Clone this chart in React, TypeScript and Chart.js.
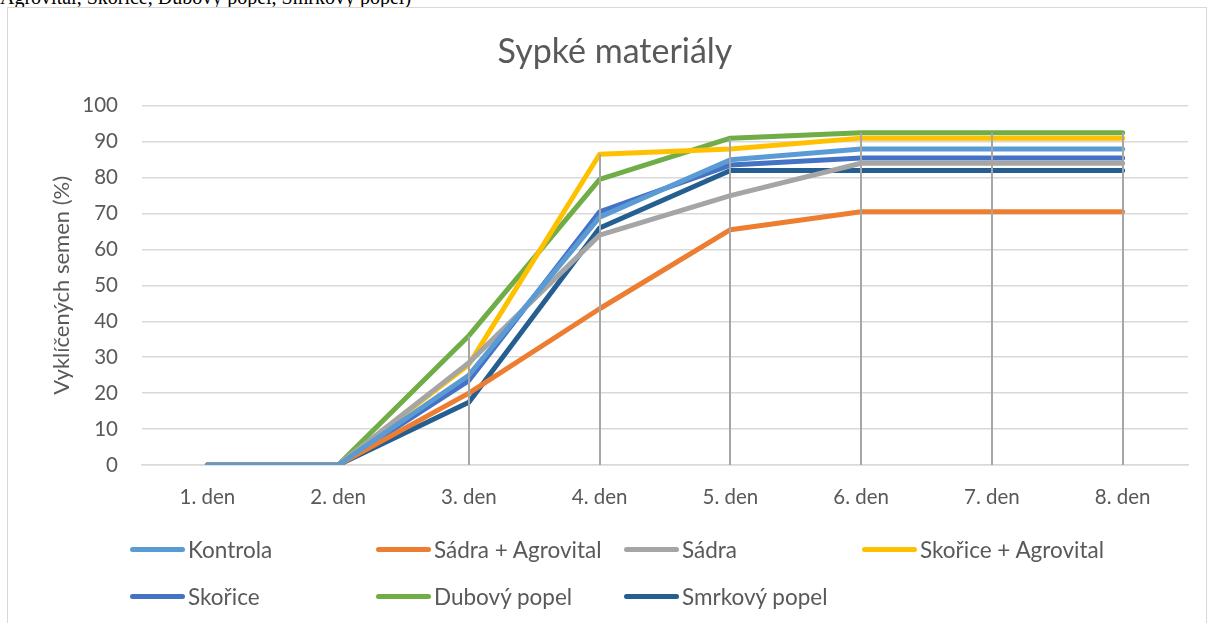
import React, { useEffect, useRef } from "react";
import { Chart, registerables } from "chart.js";

Chart.register(...registerables);

const categories = ["1. den", "2. den", "3. den", "4. den", "5. den", "6. den", "7. den", "8. den"];
const seriesNames = [
  "Kontrola",
  "Sádra + Agrovital",
  "Sádra",
  "Skořice + Agrovital",
  "Skořice",
  "Dubový popel",
  "Smrkový popel",
];
const kontrola = [0, 0, 25, 69, 85, 88, 88, 88];
const sadraAgrovital = [0, 0, 20, 43.5, 65.5, 70.5, 70.5, 70.5];
const sadra = [0, 0, 28.5, 64, 75, 84, 84, 84];
const skoriceAgrovital = [0, 0, 28, 86.5, 88, 91, 91, 91];
const skorice = [0, 0, 23.5, 70.5, 83.5, 85.5, 85.5, 85.5];
const dubovyPopel = [0, 0, 36, 79.5, 91, 92.5, 92.5, 92.5];
const smrkovyPopel = [0, 0, 17.5, 66, 82, 82, 82, 82];
const seriesValues = [kontrola, sadraAgrovital, sadra, skoriceAgrovital, skorice, dubovyPopel, smrkovyPopel];
const seriesColors = ["#5B9BD5", "#ED7D31", "#A5A5A5", "#FFC000", "#4472C4", "#70AD47", "#255E91"];
const yTicks = [0, 10, 20, 30, 40, 50, 60, 70, 80, 90, 100];

const chartTitle = "Sypké materiály";
const yTitle = "Vyklíčených semen (%)";
const captionText = "Agrovital, Skořice, Dubový popel, Smrkový popel)";

const FONT = "Lato, 'Open Sans', sans-serif";
const TEXT = "#595959";

const dropLines = {
  id: "dropLines",
  afterDatasetsDraw(chart: any) {
    const { ctx, scales } = chart;
    const x = scales.x;
    const y = scales.y;
    ctx.save();
    ctx.strokeStyle = "#A6A6A6";
    ctx.lineWidth = 2;
    for (let i = 0; i < categories.length; i++) {
      const max = Math.max(...chart.data.datasets.map((d: any) => d.data[i]));
      if (max <= 0) continue;
      const px = Math.round(x.getPixelForValue(i));
      ctx.beginPath();
      ctx.moveTo(px, y.getPixelForValue(max));
      ctx.lineTo(px, y.getPixelForValue(0));
      ctx.stroke();
    }
    ctx.restore();
  },
};

const legendCols = [130, 376, 624, 862];
const legendRows = [536, 583];

export default function App() {
  const ref = useRef<HTMLCanvasElement | null>(null);

  useEffect(() => {
    if (!ref.current) return;
    const chart = new Chart(ref.current, {
      type: "line",
      data: {
        labels: categories,
        datasets: seriesNames.map((name, i) => ({
          label: name,
          data: seriesValues[i],
          borderColor: seriesColors[i],
          backgroundColor: seriesColors[i],
          borderWidth: 5,
          pointRadius: 0,
          tension: 0,
          borderCapStyle: "round" as const,
          borderJoinStyle: "round" as const,
          fill: false,
        })),
      },
      options: {
        responsive: false,
        animation: false,
        layout: { padding: { left: 34, right: 18, top: 0, bottom: 108 } },
        plugins: {
          legend: { display: false },
          tooltip: { enabled: false },
          title: {
            display: true,
            text: chartTitle,
            color: TEXT,
            font: { family: FONT, size: 34, weight: "normal" },
            padding: { top: 24, bottom: 33 },
          },
        },
        scales: {
          x: {
            offset: true,
            grid: { display: false, drawTicks: false },
            border: { display: true, color: "#D9D9D9", width: 1.5 },
            ticks: { color: TEXT, font: { family: FONT, size: 20.5 }, padding: 20, maxRotation: 0 },
            afterFit: (s: any) => {
              s.height = 50;
            },
          },
          y: {
            min: 0,
            max: 100,
            afterBuildTicks: (s: any) => {
              s.ticks = yTicks.map((v) => ({ value: v }));
            },
            grid: { color: "#D9D9D9", lineWidth: 1.5, drawTicks: false },
            border: { display: false },
            ticks: { color: TEXT, font: { family: FONT, size: 20.5 }, padding: 24 },
            title: {
              display: true,
              text: yTitle,
              color: TEXT,
              font: { family: FONT, size: 22, weight: "normal" },
              padding: { top: 7, bottom: 0 },
            },
            afterFit: (s: any) => {
              s.width = 100;
            },
          },
        },
      },
      plugins: [dropLines],
    });
    return () => chart.destroy();
  }, []);

  return (
    <div style={{ position: "fixed", left: 0, top: 0, width: 1223, height: 623, overflow: "hidden", background: "#fff" }}>
      <div
        style={{
          position: "absolute",
          left: 0,
          top: -14,
          fontFamily: "'Liberation Serif', 'Times New Roman', serif",
          fontSize: 20,
          lineHeight: "22px",
          color: "#000",
          whiteSpace: "nowrap",
        }}
      >
        {captionText}
      </div>
      <div
        style={{
          position: "absolute",
          left: 7,
          top: 7,
          width: 1198,
          height: 700,
          border: "1px solid #D9D9D9",
          background: "#fff",
        }}
      />
      <canvas ref={ref} width={1198} height={615} style={{ position: "absolute", left: 8, top: 8 }} />
      {seriesNames.map((name, i) => (
        <div
          key={name}
          style={{
            position: "absolute",
            left: legendCols[i % 4],
            top: legendRows[Math.floor(i / 4)],
            height: 26,
            display: "flex",
            alignItems: "center",
            fontFamily: FONT,
            fontSize: 22.5,
            color: TEXT,
            whiteSpace: "nowrap",
          }}
        >
          <span
            style={{
              display: "inline-block",
              width: 55,
              height: 5,
              borderRadius: 3,
              background: seriesColors[i],
              marginRight: 3,
            }}
          />
          {name}
        </div>
      ))}
    </div>
  );
}
